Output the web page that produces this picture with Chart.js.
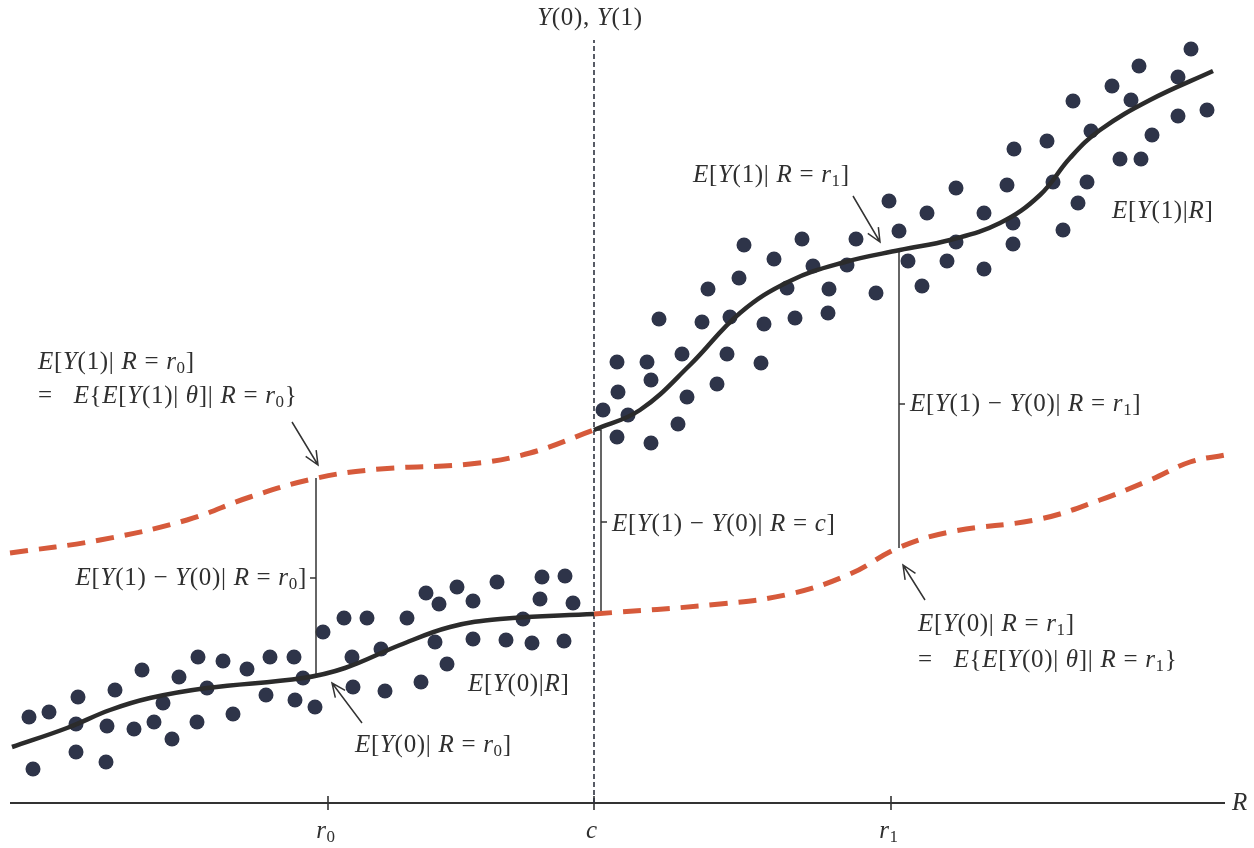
<!DOCTYPE html>
<html>
<head>
<meta charset="utf-8">
<script src="https://cdn.jsdelivr.net/npm/chart.js@4.4.1/dist/chart.umd.min.js"></script>
<style>
  html, body { margin: 0; padding: 0; background: #ffffff; }
  canvas { display: block; }
</style>
</head>
<body>
<canvas id="rdd" width="1254" height="848"></canvas>
<script>
// Running variable R along the horizontal axis, outcome height above the axis vertically.
const cutoff = 594;
const r0 = 316;
const r1 = 899;
const tickValues = [328, 594, 891];
const tickLabels = ['r_0', 'c', 'r_1'];
const axisEnd = 1225;

// Observed outcomes: untreated units (R < c) and treated units (R >= c)
const untreatedDots = [
  [29,86],[49,91],[78,106],[76,79],[76,51],[33,34],[106,41],[107,77],[115,113],[134,74],
  [142,133],[154,81],[163,100],[172,64],[179,126],[197,81],[198,146],[207,115],[223,142],[233,89],
  [247,134],[266,108],[270,146],[294,146],[303,125],[295,103],[315,96],[323,171],[344,185],[367,185],
  [352,146],[353,116],[381,154],[385,112],[407,185],[421,121],[426,210],[439,199],[435,161],[447,139],
  [457,216],[473,202],[473,164],[497,221],[506,163],[523,184],[532,160],[542,226],[540,204],[565,227],
  [573,200],[564,162]
];
const treatedDots = [
  [603,393],[617,441],[618,411],[617,366],[628,388],[647,441],[651,423],[651,360],[659,484],[678,379],
  [682,449],[687,406],[702,481],[708,514],[717,419],[727,449],[730,486],[739,525],[744,558],[761,440],
  [764,479],[774,544],[787,515],[795,485],[802,564],[813,537],[829,514],[828,490],[847,538],[856,564],
  [876,510],[889,602],[899,572],[908,542],[922,517],[927,590],[947,542],[956,615],[956,561],[984,590],
  [984,534],[1007,618],[1013,580],[1013,559],[1014,654],[1047,662],[1053,621],[1063,573],[1073,702],[1078,600],
  [1087,621],[1091,672],[1112,717],[1120,644],[1131,703],[1139,737],[1141,644],[1152,668],[1178,726],[1178,687],
  [1191,754],[1207,693]
];

// Conditional mean curves
const meanY0 = [
  [12,56],[67,75],[110,93],[150,105],[207,115],[303,125],[345,135],
  [400,158],[450,176],[500,184],[594,189]
];
const meanY1 = [
  [594,373],[640,393],[690,438],[740,490],[790,522],[845,541],
  [900,553],[950,563],[1000,580],[1040,608],[1070,645],[1100,673],[1150,703],[1213,732]
];
// Unobserved counterfactual means
const counterY1 = [
  [10,250],[100,263],[187,283],[250,306],[317,325],[380,334],
  [470,339],[530,350],[594,373]
];
const counterY0 = [
  [594,189],[720,199],[790,209],[850,229],[898,255],[950,271],
  [1040,284],[1100,303],[1150,323],[1190,341],[1225,348]
];

// Treatment-effect gaps: [lower, upper]
const gapR0 = [128, 325];
const gapC = [189, 373];
const gapR1 = [255, 552];
const cutoffLineTop = 763;

const INK = '#333333';
const TEXT = '#2f2f2f';
const DOT = '#2e3449';
const ORANGE = '#d65a3b';
const FONT = '"Liberation Serif", "DejaVu Serif", serif';
const FS = 25;

const pts = a => a.map(([x, y]) => ({ x, y }));

// Labels anchored in data units; '_' marks a subscript
const labels = [
  { t: 'Y(0), Y(1)', x: 590, y: 785, align: 'center' },
  { t: 'E[Y(1)| R = r_1]', x: 693, y: 628, align: 'left' },
  { t: 'E[Y(1)|R]', x: 1112, y: 592, align: 'left' },
  { t: 'E[Y(1)| R = r_0]', x: 38, y: 441, align: 'left' },
  { t: '=   E{E[Y(1)| θ]| R = r_0}', x: 38, y: 407, align: 'left' },
  { t: 'E[Y(1) − Y(0)| R = r_1]', x: 910, y: 399, align: 'left' },
  { t: 'E[Y(1) − Y(0)| R = c]', x: 612, y: 279, align: 'left' },
  { t: 'E[Y(1) − Y(0)| R = r_0]', x: 307, y: 225, align: 'right' },
  { t: 'E[Y(0)| R = r_1]', x: 918, y: 179, align: 'left' },
  { t: '=   E{E[Y(0)| θ]| R = r_1}', x: 918, y: 143, align: 'left' },
  { t: 'E[Y(0)|R]', x: 468, y: 119, align: 'left' },
  { t: 'E[Y(0)| R = r_0]', x: 355, y: 58, align: 'left' },
  { t: 'R', x: 1232, y: 0, align: 'left' }
];

// Pointer arrows: [tailX, tailY, headX, headY]
const arrows = [
  [292, 381, 318, 338],
  [853, 607, 880, 561],
  [362, 80, 332, 120],
  [925, 203, 903, 238]
];

function tokenize(text) {
  const out = [];
  for (let i = 0; i < text.length; i++) {
    let ch = text[i];
    let sub = false;
    if (ch === '_') { sub = true; ch = text[++i]; }
    const italic = !sub && /[A-Za-zθ]/.test(ch);
    out.push({ ch, italic, sub });
  }
  return out;
}

function fontFor(tok, size) {
  const s = tok.sub ? Math.round(size * 0.68) : size;
  return (tok.italic ? 'italic ' : '') + s + 'px ' + FONT;
}

function drawMath(ctx, text, x, y, align, size) {
  const toks = tokenize(text);
  const spacing = 0.7;
  let w = 0;
  toks.forEach(t => { ctx.font = fontFor(t, size); t.w = ctx.measureText(t.ch).width + spacing; w += t.w; });
  let cx = align === 'center' ? x - w / 2 : align === 'right' ? x - w : x;
  ctx.textBaseline = 'middle';
  ctx.textAlign = 'left';
  ctx.fillStyle = TEXT;
  toks.forEach(t => {
    ctx.font = fontFor(t, size);
    ctx.fillText(t.ch, cx, t.sub ? y + size * 0.28 : y);
    cx += t.w;
  });
}

function arrow(ctx, x1, y1, x2, y2) {
  const a = Math.atan2(y2 - y1, x2 - x1);
  const len = 15, spread = 0.42;
  ctx.beginPath();
  ctx.moveTo(x1, y1);
  ctx.lineTo(x2, y2);
  ctx.moveTo(x2 - len * Math.cos(a - spread), y2 - len * Math.sin(a - spread));
  ctx.lineTo(x2, y2);
  ctx.lineTo(x2 - len * Math.cos(a + spread), y2 - len * Math.sin(a + spread));
  ctx.stroke();
}

const diagramPlugin = {
  id: 'diagram',
  beforeDatasetsDraw(chart) {
    const { ctx, scales: { x, y } } = chart;
    ctx.save();
    // horizontal R axis
    ctx.strokeStyle = INK;
    ctx.lineWidth = 2;
    ctx.beginPath();
    ctx.moveTo(x.getPixelForValue(10), y.getPixelForValue(0));
    ctx.lineTo(x.getPixelForValue(axisEnd), y.getPixelForValue(0));
    ctx.stroke();
    ctx.lineWidth = 1.6;
    tickValues.forEach(v => {
      const px = x.getPixelForValue(v);
      ctx.beginPath();
      ctx.moveTo(px, y.getPixelForValue(0) - 7);
      ctx.lineTo(px, y.getPixelForValue(0) + 7);
      ctx.stroke();
    });
    ctx.restore();
  },
  afterDatasetsDraw(chart) {
    const { ctx, scales: { x, y } } = chart;
    ctx.save();
    // small ticks marking each gap label
    ctx.strokeStyle = INK;
    ctx.lineWidth = 1.5;
    const stub = (vx, vy, dir) => {
      const px = x.getPixelForValue(vx), py = y.getPixelForValue(vy);
      ctx.beginPath(); ctx.moveTo(px, py); ctx.lineTo(px + dir * 6, py); ctx.stroke();
    };
    stub(r0, 225, -1);
    stub(cutoff + 7, 281, 1);
    stub(r1, 399, 1);

    arrows.forEach(([a, b, c, d]) => arrow(ctx,
      x.getPixelForValue(a), y.getPixelForValue(b),
      x.getPixelForValue(c), y.getPixelForValue(d)));

    tickValues.forEach((v, i) => {
      drawMath(ctx, tickLabels[i], x.getPixelForValue(v) - 2, y.getPixelForValue(0) + 28, 'center', FS);
    });
    labels.forEach(l => drawMath(ctx, l.t, x.getPixelForValue(l.x), y.getPixelForValue(l.y), l.align, FS));
    ctx.restore();
  }
};

const lineStyle = (data, color, width, dash) => ({
  type: 'line',
  data: pts(data),
  borderColor: color,
  borderWidth: width,
  borderDash: dash || [],
  pointRadius: 0,
  fill: false,
  tension: 0.4,
  borderCapStyle: 'butt'
});

const ctx = document.getElementById('rdd').getContext('2d');
new Chart(ctx, {
  type: 'scatter',
  data: {
    datasets: [
      lineStyle(meanY0, '#2b2b2b', 4.5),
      lineStyle(meanY1, '#2b2b2b', 4.5),
      lineStyle(counterY1, ORANGE, 5, [18, 11]),
      lineStyle(counterY0, ORANGE, 5, [18, 11]),
      { type: 'line', data: [{ x: r0, y: gapR0[0] }, { x: r0, y: gapR0[1] }], borderColor: INK, borderWidth: 1.5, pointRadius: 0, tension: 0 },
      { type: 'line', data: [{ x: cutoff, y: gapC[1] }, { x: cutoff + 7, y: gapC[1] }, { x: cutoff + 7, y: gapC[0] }, { x: cutoff, y: gapC[0] }], borderColor: INK, borderWidth: 1.5, pointRadius: 0, tension: 0 },
      { type: 'line', data: [{ x: r1, y: gapR1[0] }, { x: r1, y: gapR1[1] }], borderColor: INK, borderWidth: 1.5, pointRadius: 0, tension: 0 },
      { type: 'line', data: [{ x: cutoff, y: 0 }, { x: cutoff, y: cutoffLineTop }], borderColor: '#2f3340', borderWidth: 1.6, borderDash: [5, 3], pointRadius: 0, tension: 0 },
      { data: pts(untreatedDots), pointRadius: 7.5, pointBackgroundColor: DOT, pointBorderWidth: 0, showLine: false },
      { data: pts(treatedDots), pointRadius: 7.5, pointBackgroundColor: DOT, pointBorderWidth: 0, showLine: false }
    ]
  },
  options: {
    responsive: false,
    animation: false,
    devicePixelRatio: 1,
    events: [],
    layout: { padding: 0, autoPadding: false },
    plugins: { legend: { display: false }, tooltip: { enabled: false }, title: { display: false } },
    scales: {
      x: { type: 'linear', min: 0, max: 1254, display: false },
      y: { type: 'linear', min: -45, max: 803, display: false }
    }
  },
  plugins: [diagramPlugin]
});
</script>
</body>
</html>
